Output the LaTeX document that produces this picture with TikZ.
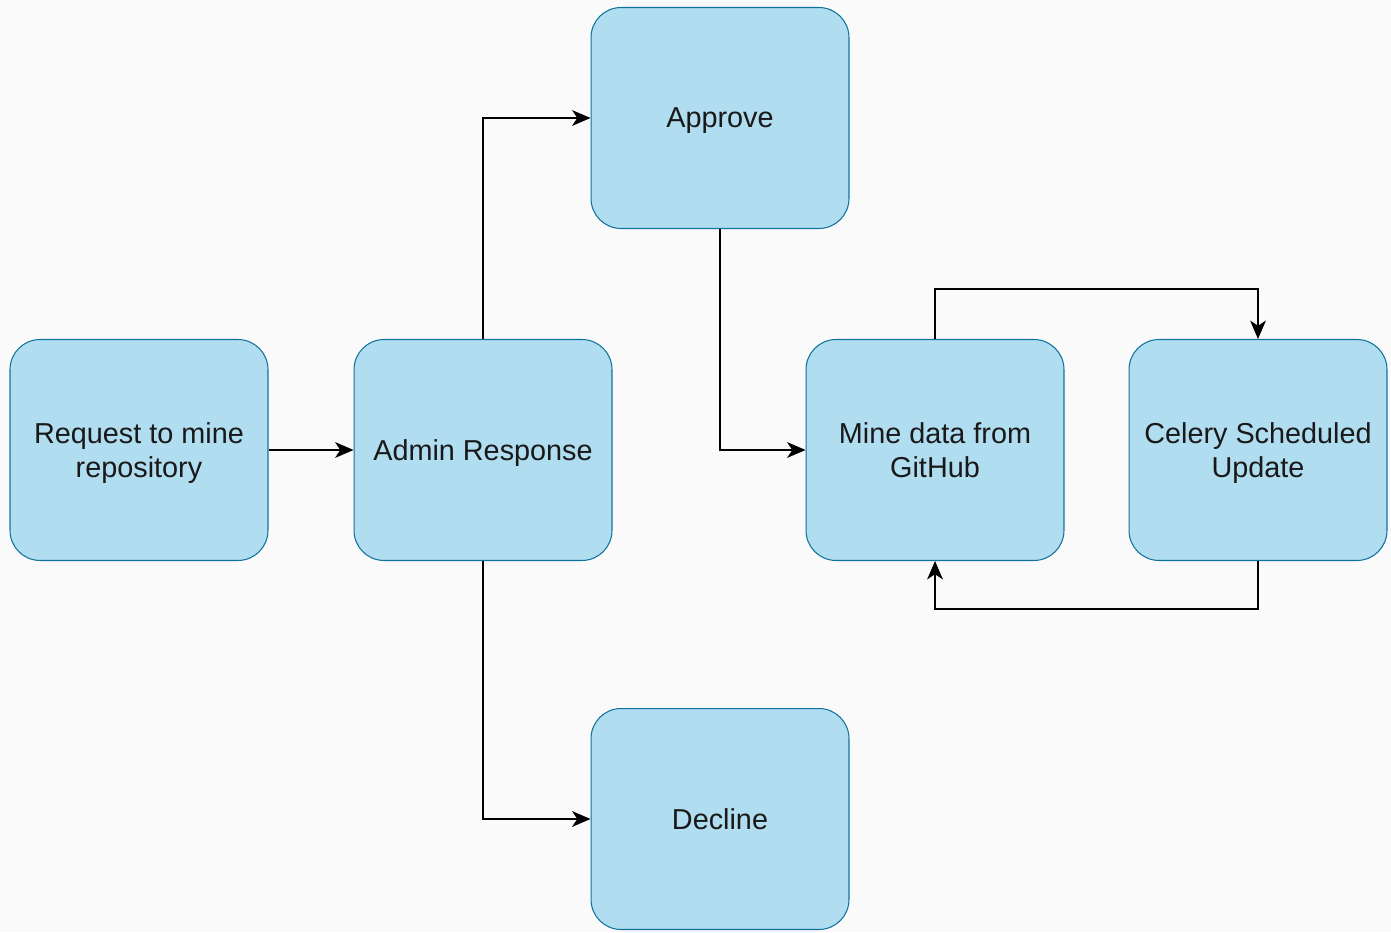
\documentclass[tikz,border=0pt]{standalone}
\usepackage{fontspec}
\setmainfont{Liberation Sans}
\usetikzlibrary{arrows.meta,positioning}

\definecolor{boxfill}{HTML}{B1DDF0}
\definecolor{boxline}{HTML}{10739E}
\definecolor{pagebg}{HTML}{FAFAFA}

\tikzset{
  stepbox/.style={draw=boxline,fill=boxfill,line width=0.6pt,rounded corners=0.6cm,
    minimum width=5.16cm,minimum height=4.42cm,inner sep=0pt,align=center,
    font=\fontsize{16.4}{19.8}\selectfont,text=black!90,text depth=-0.1cm},
  flow/.style={->,line width=0.6pt,draw=black}
}

\begin{document}
\begin{tikzpicture}[x=0.02cm,y=-0.02cm,>={Stealth[length=10.5pt,width=9pt,inset=3pt]}]
	  \fill[pagebg] (0,0) rectangle (1391,932);
	  \useasboundingbox (0,0) rectangle (1391,932);
	  \node[stepbox] (req)  at (139,450)  {Request to mine\\repository};
	  \node[stepbox] (adm)  at (483,450)  {Admin Response};
	  \node[stepbox] (app)  at (720,118)  {Approve};
	  \node[stepbox] (dec)  at (720,819)  {Decline};
	  \node[stepbox] (mine) at (935,450)  {Mine data from\\GitHub};
	  \node[stepbox] (cel)  at (1258,450) {Celery Scheduled\\Update};
	  \path[flow]
(req) edge (adm)
;
	  \draw[flow] (adm) |- (app);
	  \draw[flow] (adm) |- (dec);
	  \draw[flow] (app) |- (mine);
	  \draw[flow] (mine.north) -- ++(0,-50) -| (cel.north);
	  \draw[flow] (cel.south) -- ++(0,48) -| (mine.south);
	\end{tikzpicture}
\end{document}
